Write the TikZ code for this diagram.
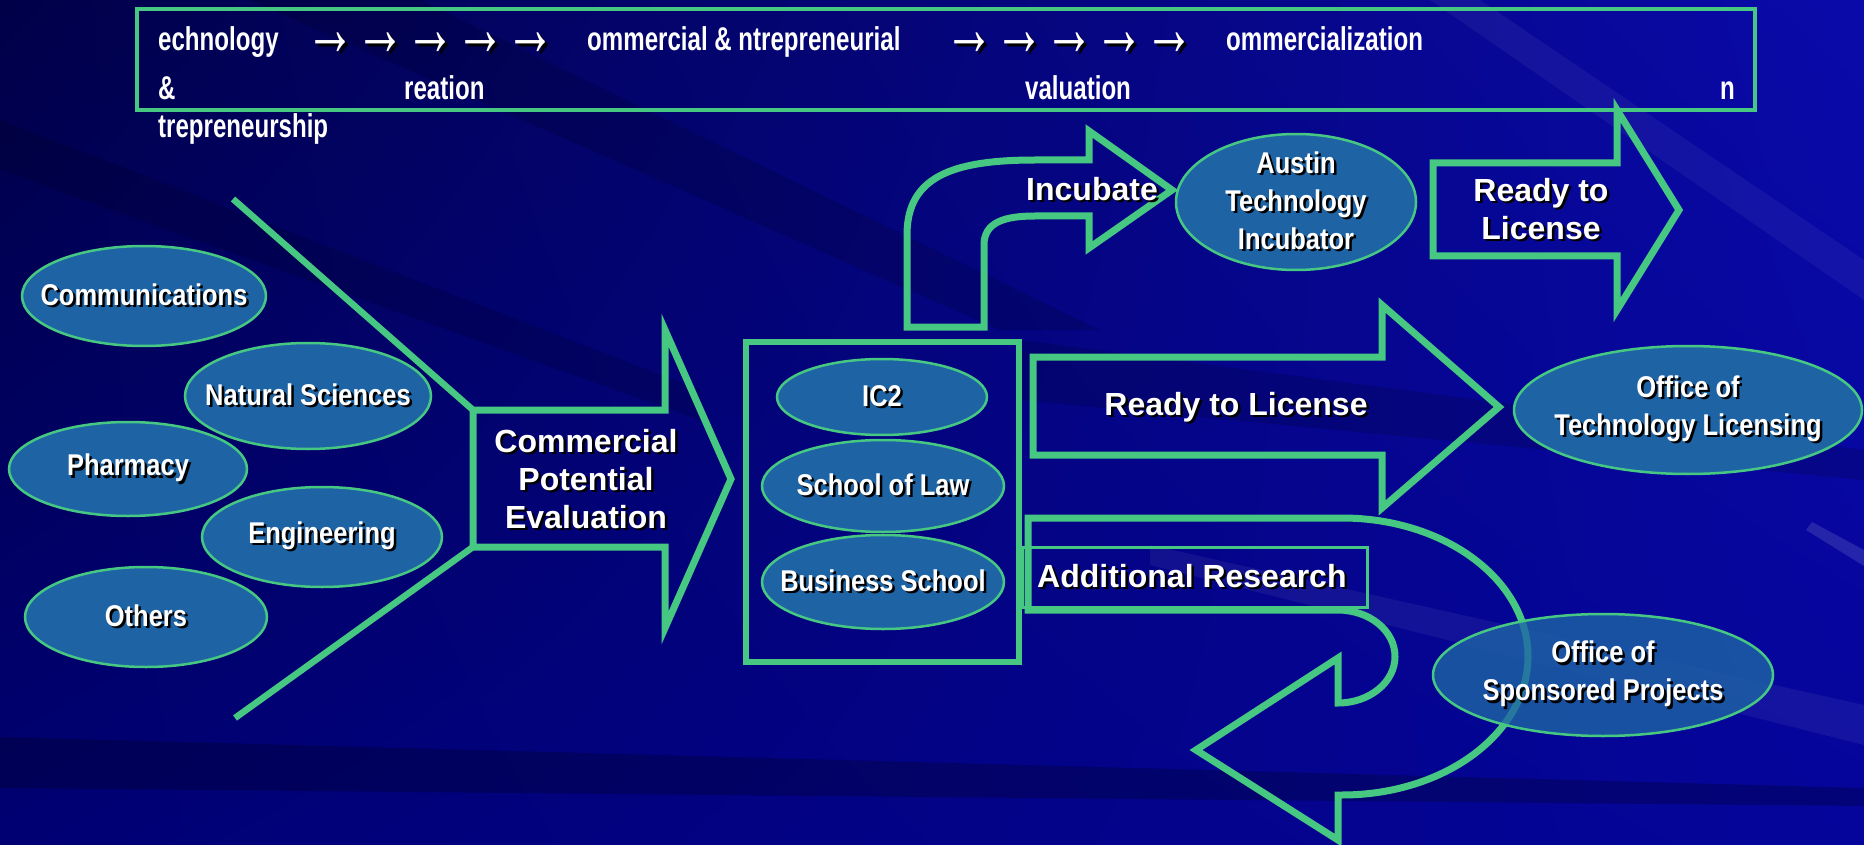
\documentclass[tikz,border=0pt]{standalone}
\usepackage{fontspec}
\setmainfont{Liberation Sans}
\newfontfamily\narrowfont[FakeStretch=0.85]{Liberation Sans}
\newfontfamily\squeezefont[FakeStretch=0.73]{Liberation Sans}
\usetikzlibrary{shapes.geometric}
\usetikzlibrary{shadings}
\usetikzlibrary{positioning}

\definecolor{lime}{RGB}{70,200,130}
\definecolor{unitblue}{RGB}{30,100,165}
\definecolor{bgnw}{RGB}{0,0,72}
\definecolor{bgne}{RGB}{10,10,170}
\definecolor{bgsw}{RGB}{0,0,115}
\definecolor{bgse}{RGB}{5,5,155}

% white text with a dark drop shadow
\newcommand\shd[1]{\leavevmode\rlap{\kern2.5pt\raisebox{-2.5pt}{\color{black}#1}}#1}
% banner arrow, drawn tall and with a heavier shadow
\newcommand\fwd{\scalebox{1}[1.6]{\kern3pt\rlap{\kern3pt\raisebox{-2pt}{\color{black}→}}→\kern6pt}}

\tikzset{
    unit/.style={ellipse, draw=lime, fill=unitblue, line width=2.5pt, inner sep=0pt},
    tag/.style={text=white, align=center, inner sep=0pt,
        font=\narrowfont\bfseries\fontsize{30}{38}\selectfont},
    bigtag/.style={text=white, align=center, inner sep=0pt,
        font=\bfseries\fontsize{32}{38}\selectfont},
    outline/.style={draw=lime, line width=7pt, line join=miter},
    hubbox/.style={draw=lime, line width=6pt, minimum width=273pt, minimum height=320pt},
    banner/.style={text=white, anchor=base west, inner sep=0pt,
        font=\squeezefont\bfseries\fontsize{33}{40}\selectfont},
    flow/.style={text=white, inner sep=4pt, font=\bfseries\fontsize{50}{52}\selectfont},
    streak/.style={fill=black, opacity=.14},
}

\begin{document}
\begin{tikzpicture}[x=1pt, y=-1pt]
\useasboundingbox (0,0) rectangle (1864,845);
% backdrop and streaks
\shade[upper left=bgnw, upper right=bgne, lower left=bgsw, lower right=bgse] (0,0) rectangle (1864,845);
\fill[streak] (0,120) -- (0,170) -- (700,420) -- (700,390) -- cycle;
\fill[streak] (250,0) -- (420,0) -- (1100,330) -- (1000,330) -- cycle;
\fill[streak] (1020,340) -- (1864,450) -- (1864,480) -- (1020,400) -- cycle;
\fill[black, opacity=.22] (0,737) -- (1864,788) -- (1864,806) -- (0,788) -- cycle;
\fill[white, opacity=.06] (1150,545) -- (1864,705) -- (1864,745) -- (1150,565) -- cycle;
\fill[white, opacity=.12] (1812,522) -- (1864,550) -- (1864,566) -- (1806,530) -- cycle;
\fill[white, opacity=.05] (1480,0) -- (1864,260) -- (1864,300) -- (1430,0) -- cycle;

% stages banner
\draw[lime, line width=3.5pt] (137,9) rectangle (1755,110);
\node[banner] (b1) at (158,51) {echnology};
\foreach \x in {0,...,4}
    \node[flow] (fa\x) at ({332+50*\x},46) {\fwd};
\node[banner] (b2) at (587,51) {ommercial \& ntrepreneurial};
\foreach \x in {0,...,4}
    \node[flow] (fb\x) at ({971+50*\x},46) {\fwd};
\node[banner] (b3) at (1226,51) {ommercialization};
\node[banner] (b4) at (158,100) {\&};
\node[banner] (b5) at (404,100) {reation};
\node[banner] (b6) at (1025,100) {valuation};
\node[banner] (b7) at (1720,100) {n};
\node[banner] (b8) at (158,138) {trepreneurship};

% colleges
\node[unit, minimum width=244pt, minimum height=100pt] (comm) at (144,296) {};
\node[tag] (comm-t) at (comm) {\shd{Communications}};
\node[unit, minimum width=246pt, minimum height=106pt] (natsci) at (308,396) {};
\node[tag] (natsci-t) at (natsci) {\shd{Natural Sciences}};
\node[unit, minimum width=238pt, minimum height=94pt] (pharm) at (128,469) {};
\node[tag] (pharm-t) at (pharm) {\shd{Pharmacy}};
\node[unit, minimum width=240pt, minimum height=100pt] (eng) at (322,537) {};
\node[tag] (eng-t) at (eng) {\shd{Engineering}};
\node[unit, minimum width=242pt, minimum height=100pt] (others) at (146,617) {};
\node[tag] (others-t) at (others) {\shd{Others}};

% evaluation arrow and funnel
\draw[outline] (473,410) coordinate (ev-nw) -- (665,410) -- (665,330) -- (731,479)
    -- (665,628) -- (665,547) -- (473,547) coordinate (ev-sw) -- cycle;
\node[bigtag] (eval) at (586,480) {\shd{Commercial}\\\shd{Potential}\\\shd{Evaluation}};
\coordinate (fun-top) at (233,199);
\coordinate (fun-bot) at (235,718);
\draw[outline, line width=6.5pt] (fun-top) -- (ev-nw);
\draw[outline, line width=6.5pt] (fun-bot) -- (ev-sw);

% partners box
\node[hubbox] (hub) at (882.5,502) {};
\node[unit, minimum width=210pt, minimum height=76pt] (ic2) at (882,397) {};
\node[tag] (ic2-t) at (ic2) {\shd{IC2}};
\node[unit, minimum width=242pt, minimum height=92pt] (law) at (883,486) {};
\node[tag] (law-t) at (law) {\shd{School of Law}};
\node[unit, minimum width=242pt, minimum height=94pt] (biz) at (883,582) {};
\node[tag] (biz-t) at (biz) {\shd{Business School}};

% incubate
\draw[outline] (907,327) -- (907,235) .. controls (907,178) and (950,160) .. (1035,160)
    -- (1089,160) -- (1089,131) -- (1172,190) -- (1089,248) -- (1089,216) -- (1035,216)
    .. controls (1005,216) and (984,222) .. (984,245) -- (984,327) -- cycle;
\node[bigtag] (incub-t) at (1092,190) {\shd{Incubate}};
\node[unit, minimum width=240pt, minimum height=136pt] (ati) at (1296,202) {};
\node[tag] (ati-t) at (ati) {\shd{Austin}\\\shd{Technology}\\\shd{Incubator}};
\draw[outline] (1433,163) -- (1617,163) -- (1617,110) -- (1679,210) -- (1617,310)
    -- (1617,256) -- (1433,256) -- cycle;
\node[bigtag] (ready1) at (1541,210) {\shd{Ready to}\\\shd{License}};

% licensing
\draw[outline] (1033,357) -- (1382,357) -- (1382,305) -- (1499,407) -- (1382,508)
    -- (1382,455) -- (1033,455) -- cycle;
\node[bigtag] (ready2) at (1236,408) {\shd{Ready to License}};
\node[unit, minimum width=348pt, minimum height=128pt] (otl) at (1688,410) {};
\node[tag] (otl-t) at (otl) {\shd{Office of}\\\shd{Technology Licensing}};

% additional research loop
\draw[outline] (1028,518) -- (1342,518) arc[start angle=90, end angle=-90, x radius=186pt, y radius=138.5pt]
    -- (1338,795) -- (1338,840) -- (1196,750) -- (1338,658) -- (1338,703)
    arc[start angle=-90, end angle=90, x radius=57pt, y radius=46.5pt] -- (1028,610) -- cycle;
\draw[lime, line width=3pt] (hub.east |- 0,547) rectangle (1367,607);
\node[bigtag, anchor=west] (addl) at (1037,577) {\shd{Additional Research}};
\node[unit, fill opacity=.8, minimum width=340pt, minimum height=122pt] (osp) at (1603,675) {};
\node[tag] (osp-t) at (osp) {\shd{Office of}\\\shd{Sponsored Projects}};
\end{tikzpicture}
\end{document}
